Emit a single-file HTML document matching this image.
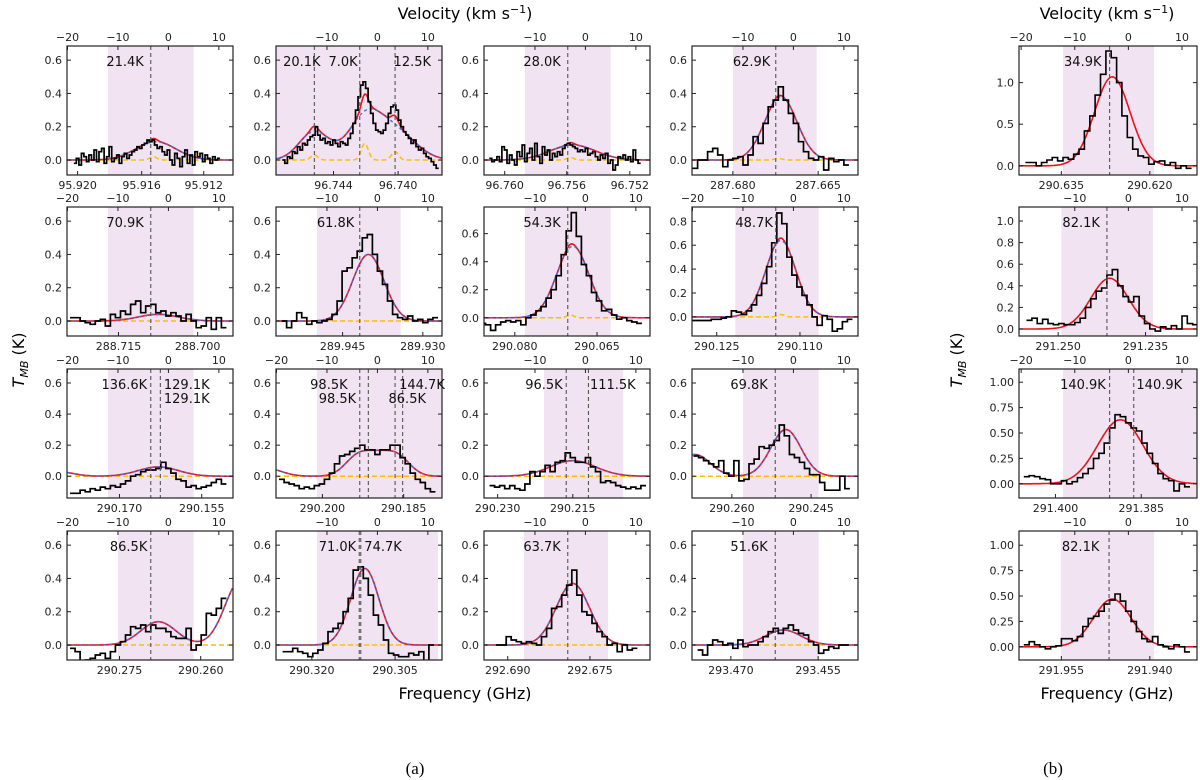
<!DOCTYPE html>
<html><head><meta charset="utf-8"><style>
html,body{margin:0;padding:0;background:#fff;}
svg{display:block;font-family:"DejaVu Sans","Liberation Sans",sans-serif;}
</style></head><body>
<svg id="fig" width="1200" height="780" viewBox="0 0 1200 780" xmlns="http://www.w3.org/2000/svg">
<text x="465" y="19" font-size="16" text-anchor="middle">Velocity (km s<tspan dy="-6" font-size="11">−1</tspan><tspan dy="6">)</tspan></text>
<text x="1107" y="19" font-size="16" text-anchor="middle">Velocity (km s<tspan dy="-6" font-size="11">−1</tspan><tspan dy="6">)</tspan></text>
<text x="465" y="699" font-size="16" text-anchor="middle">Frequency (GHz)</text>
<text x="1107" y="699" font-size="16" text-anchor="middle">Frequency (GHz)</text>
<text transform="translate(24,360) rotate(-90)" font-size="16" text-anchor="middle"><tspan font-style="italic">T</tspan><tspan font-style="italic" font-size="11" dy="4">MB</tspan><tspan dy="-4"> (K)</tspan></text>
<text transform="translate(962,360) rotate(-90)" font-size="16" text-anchor="middle"><tspan font-style="italic">T</tspan><tspan font-style="italic" font-size="11" dy="4">MB</tspan><tspan dy="-4"> (K)</tspan></text>
<text x="415" y="774" font-size="17" text-anchor="middle" font-family="Liberation Serif, serif">(a)</text>
<text x="1053" y="774" font-size="17" text-anchor="middle" font-family="Liberation Serif, serif">(b)</text>
</svg>
<script>
// ---- observed spectra (T_MB in K), channel start velocity v0 and width dv given in configs
const obs_r1c1=[-0.02,0.01,-0.03,0.04,0.02,-0.01,0.03,0.0,0.06,-0.01,0.05,0.07,-0.02,0.02,0.08,-0.01,0.01,0.03,-0.02,0.02,0.04,0.01,0.03,0.05,0.06,0.08,0.07,0.09,0.1,0.12,0.11,0.12,0.09,0.07,0.08,0.05,0.03,0.06,0.0,-0.03,0.04,0.01,-0.04,0.02,0.06,-0.02,0.03,-0.03,0.05,0.02,0.04,-0.01,0.03,0.01,-0.02,0.02,0.0,0.01];
const obs_r1c2=[0,-0.02,0.02,0.01,0.05,0.04,0.08,0.06,0.1,0.09,0.12,0.14,0.15,0.2,0.15,0.12,0.13,0.1,0.11,0.09,0.12,0.1,0.08,0.11,0.1,0.09,0.13,0.16,0.22,0.3,0.38,0.45,0.47,0.43,0.35,0.28,0.22,0.18,0.17,0.16,0.18,0.22,0.28,0.32,0.33,0.3,0.24,0.2,0.17,0.15,0.13,0.1,0.12,0.08,0.06,0.07,0.04,0.02,0.01,-0.01,-0.03,-0.05];
const obs_r1c3=[0.01,-0.01,0.0,0.02,-0.01,0.08,0.06,-0.02,0.03,0.0,-0.03,0.05,0.02,0.09,-0.01,0.04,0.07,0.0,0.1,0.02,-0.02,0.08,0.03,0.06,0.0,0.04,0.02,0.05,0.03,0.07,0.09,0.1,0.09,0.08,0.07,0.05,0.06,0.05,0.07,0.03,0.04,0.05,0.02,0.0,0.03,0.01,0.04,-0.02,0.0,-0.06,-0.03,0.02,0.01,0.03,0.0,0.02,-0.01,0.06,0.0,-0.02];
const obs_r1c4=[-0.05,0.0,0.0,0.05,0.07,0.03,-0.04,0.0,0.01,0.02,-0.03,0.03,0.14,0.1,0.22,0.32,0.36,0.44,0.36,0.28,0.22,0.11,0.05,0.01,0.0,0.02,-0.06,0.01,-0.01,0.0,-0.03];
const obs_r2c1=[0.02,0.02,0.0,-0.01,-0.02,0.0,0.01,-0.03,0.04,0.02,0.06,0.04,0.1,0.12,0.05,0.09,0.1,0.05,0.06,0.03,0.05,0.03,0.0,0.04,0.0,-0.04,-0.03,0.02,-0.05,0.02,-0.04];
const obs_r2c2=[0.0,-0.04,0.0,0.05,0.02,-0.02,0.0,-0.01,0.0,0.01,0.04,0.12,0.3,0.32,0.38,0.42,0.5,0.52,0.4,0.3,0.22,0.12,0.04,0.02,0.01,0.03,0.0,0.01,-0.01,0.01,0.02];
const obs_r2c3=[-0.04,-0.05,-0.09,-0.05,-0.03,-0.02,-0.03,-0.02,-0.05,0.0,0.02,0.05,0.08,0.14,0.2,0.3,0.45,0.62,0.75,0.58,0.38,0.3,0.18,0.12,0.05,0.06,0.02,-0.01,0.0,-0.02,-0.03,-0.04];
const obs_r2c4=[-0.03,-0.03,-0.03,-0.03,-0.02,-0.02,-0.01,0.0,0.05,0.04,0.02,0.05,0.1,0.18,0.28,0.42,0.62,0.87,0.78,0.5,0.35,0.25,0.18,0.1,0.0,-0.07,0.01,-0.02,-0.12,-0.1,-0.04,-0.02];
const obs_r3c1=[-0.11,-0.11,-0.09,-0.1,-0.08,-0.09,-0.07,-0.08,-0.06,-0.07,-0.05,-0.03,0.0,0.01,0.03,0.04,0.04,0.05,0.09,0.05,0.02,-0.02,-0.03,-0.07,-0.06,-0.08,-0.07,-0.06,-0.04,-0.02,-0.05];
const obs_r3c2=[-0.02,-0.04,-0.05,-0.06,-0.08,-0.07,-0.08,-0.06,-0.05,-0.02,0.02,0.08,0.13,0.14,0.16,0.18,0.2,0.17,0.17,0.14,0.17,0.17,0.2,0.2,0.12,0.08,0.02,-0.02,-0.04,-0.08,-0.1];
const obs_r3c3=[-0.06,-0.07,-0.06,-0.08,-0.06,-0.08,-0.09,-0.05,0.03,0.0,0.03,0.07,0.03,0.09,0.1,0.15,0.12,0.09,0.09,0.12,0.06,0.03,-0.04,-0.03,-0.04,-0.06,-0.07,-0.08,-0.07,-0.08,-0.06];
const obs_r3c4=[0.13,0.12,0.1,0.08,0.06,0.1,0.02,0.0,0.1,-0.03,-0.02,0.08,0.11,0.19,0.18,0.2,0.23,0.33,0.26,0.14,0.12,0.09,0.05,0.01,0.01,-0.04,-0.09,-0.09,-0.09,0.0,-0.08];
const obs_r4c1=[-0.02,-0.04,-0.1,-0.09,-0.08,-0.06,-0.05,-0.08,-0.04,0.0,0.02,0.06,0.11,0.1,0.12,0.08,0.12,0.1,0.1,0.08,0.05,0.04,0.04,0.1,-0.03,0.0,0.06,0.19,0.18,0.22,0.28];
const obs_r4c2=[-0.04,-0.04,-0.02,-0.04,-0.05,-0.07,-0.05,-0.03,0.01,0.08,0.1,0.13,0.2,0.28,0.45,0.47,0.4,0.3,0.18,0.12,0.03,-0.05,-0.06,-0.07,-0.07,-0.05,-0.06,-0.04,-0.1,0.0];
const obs_r4c3=[0.0,0.0,0.05,0.03,0.02,0.01,0.02,0.01,0.0,0.05,0.1,0.22,0.23,0.3,0.36,0.45,0.3,0.2,0.18,0.13,0.08,0.05,0.0,0.01,-0.04,0.0,-0.03,-0.02];
const obs_r4c4=[-0.03,-0.06,0.0,0.03,0.02,0.0,0.01,-0.02,0.03,-0.01,0.0,0.0,0.02,0.05,0.08,0.1,0.07,0.1,0.12,0.09,0.07,0.06,0.02,0.0,-0.05,-0.03,-0.01,-0.02,0.0,0.0];
const obs_b1=[0.04,0.04,0.0,0.04,0.07,0.1,0.06,0.1,0.08,0.14,0.2,0.42,0.6,0.85,1.1,1.38,1.3,1.0,0.6,0.34,0.2,0.12,0.1,0.02,0.05,0.06,0.01,0.04,-0.03,0.0,-0.03];
const obs_b2=[0.08,0.1,0.05,0.09,0.05,0.04,0.05,0.04,0.04,0.06,0.1,0.2,0.28,0.35,0.38,0.5,0.55,0.4,0.3,0.25,0.3,0.12,0.05,0.0,-0.02,0.02,0.0,0.03,0.0,0.12,0.05,0.04];
const obs_b3=[0.07,0.08,0.07,0.05,0.04,0.0,0.0,0.03,0.0,0.02,0.06,0.1,0.15,0.25,0.3,0.4,0.55,0.68,0.66,0.6,0.55,0.52,0.4,0.3,0.2,0.1,0.05,0.03,-0.07,0.0,-0.03];
const obs_b4=[0.02,0.05,0.02,0.0,-0.02,0.0,0.01,0.08,0.08,0.06,0.1,0.2,0.28,0.3,0.35,0.42,0.46,0.52,0.45,0.35,0.25,0.15,0.08,0.05,0.1,0.02,0.0,-0.02,0.02,0.0,-0.05];
// ---- Gaussian fit components [amplitude, centre velocity, sigma]
const fit_r1c1=[[0.11,-2.5,4]];
const fit_r1c2=[[0.17,-12.5,3],[0.24,-2.5,3.3],[0.17,3.5,4]];
const fit_r1c3=[[0.09,-2.5,4.5]];
const fit_r1c4=[[0.38,-2.5,3.2]];
const fit_r2c1=[[0.04,-2,4]];
const fit_r2c2=[[0.4,-1.8,3.1]];
const fit_r2c3=[[0.51,-2.5,3.2]];
const fit_r2c4=[[0.64,-2.5,3]];
const fit_r3c1=[[0.06,-2,4],[0.03,-22,3]];
const fit_r3c2=[[0.12,-4,2.5],[0.1,0,2.5],[0.12,4,2.5],[0.05,-22,3]];
const fit_r3c3=[[0.1,-2.5,4.5]];
const fit_r3c4=[[0.3,-1.5,3],[0.14,-19.5,3]];
const fit_r4c1=[[0.14,-2,3.5],[0.4,14.5,3.2]];
const fit_r4c2=[[0.46,-2.5,2.8]];
const fit_r4c3=[[0.37,-2.5,3.3]];
const fit_r4c4=[[0.09,-2,3.5]];
const fit_b1=[[1.07,-3,3.3]];
const fit_b2=[[0.47,-3.5,3.5]];
const fit_b3=[[0.63,-1.5,4.2]];
const fit_b4=[[0.47,-3,3.5]];
// ---- optically-thin (yellow) components
const yel_r1c1=[[0.02,-3,0.7]];
const yel_r1c2=[[0.03,-12.5,0.7],[0.1,-2.5,0.7],[0.05,3.5,0.7]];
const yel_r1c3=[[0.015,-3,0.7]];
const yel_r1c4=[[0.01,-3,0.7]];
const yel_r2c3=[[0.02,-3,0.7]];
const yel_r2c4=[[0.02,-2.5,0.7]];
// ---- labels (excitation temperatures)
const tex_r1c2=["20.1K","7.0K","12.5K"];
const tex_r3c1=["136.6K","129.1K","129.1K"];
const tex_r3c2=["98.5K","98.5K","144.7K","86.5K"];

const Y06=[0,0.2,0.4,0.6];
const cfg=[
 {id:"r1c1",r:0,c:0,obs:obs_r1c1,v0:-18.5,dv:0.5,fit:fit_r1c1,yel:yel_r1c1,shade:[-12,5],dash:[-3.5],lab:[["21.4K",-12.3,"start",0]],yd:[-0.09,0.685],yt:Y06,top:[-20,-10,0,10],ft:[["95.920",-18],["95.916",-5.3],["95.912",7]]},
 {id:"r1c2",r:0,c:1,obs:obs_r1c2,v0:-18.6,dv:0.5,fit:fit_r1c2,yel:yel_r1c2,shade:[-20,13],dash:[-12.5,-3.5,3.5],lab:[[tex_r1c2[0],-18.7,"start",0],[tex_r1c2[1],-9.7,"start",0],[tex_r1c2[2],3.2,"start",0]],yd:[-0.09,0.685],yt:Y06,top:[-10,0,10],ft:[["96.744",-8.7],["96.740",4.1]]},
 {id:"r1c3",r:0,c:2,obs:obs_r1c3,v0:-18.8,dv:0.5,fit:fit_r1c3,yel:yel_r1c3,shade:[-12,5],dash:[-3.5],lab:[["28.0K",-12.3,"start",0]],yd:[-0.09,0.685],yt:Y06,top:[-10,0,10],ft:[["96.760",-16],["96.756",-3.7],["96.752",8.8]]},
 {id:"r1c4",r:0,c:3,obs:obs_r1c4,v0:-19.5,dv:1,fit:fit_r1c4,yel:yel_r1c4,shade:[-12,4.6],dash:[-3.5],lab:[["62.9K",-12,"start",0]],yd:[-0.09,0.685],yt:Y06,top:[-10,0,10],ft:[["287.680",-12],["287.665",4.9]]},
 {id:"r2c1",r:1,c:0,obs:obs_r2c1,v0:-19,dv:1,fit:fit_r2c1,yel:[],shade:[-12,5],dash:[-3.5],lab:[["70.9K",-12.3,"start",0]],yd:[-0.09,0.685],yt:Y06,top:[-20,-10,0,10],ft:[["288.715",-9.9],["288.700",5.8]]},
 {id:"r2c2",r:1,c:1,obs:obs_r2c2,v0:-18.5,dv:1,fit:fit_r2c2,yel:[],shade:[-12,4.6],dash:[-3.5],lab:[["61.8K",-12,"start",0]],yd:[-0.09,0.685],yt:Y06,top:[-10,0,10],ft:[["289.945",-6.9],["289.930",9]]},
 {id:"r2c3",r:1,c:2,obs:obs_r2c3,v0:-20.3,dv:1,fit:fit_r2c3,yel:yel_r2c3,shade:[-12,5],dash:[-3.5],lab:[["54.3K",-12.3,"start",0]],yd:[-0.13,0.79],yt:Y06,top:[-10,0,10],ft:[["290.080",-14],["290.065",2.3]]},
 {id:"r2c4",r:1,c:3,obs:obs_r2c4,v0:-19.8,dv:1,fit:fit_r2c4,yel:yel_r2c4,shade:[-11.5,5],dash:[-3.5],lab:[["48.7K",-11.5,"start",0]],yd:[-0.16,0.92],yt:[0,0.2,0.4,0.6,0.8],top:[-20,-10,0,10],ft:[["290.125",-15.2],["290.110",1.3]]},
 {id:"r3c1",r:2,c:0,obs:obs_r3c1,v0:-19,dv:1,fit:fit_r3c1,yel:[],shade:[-12,5],dash:[-3.5,-1.6],lab:[[tex_r3c1[0],-4.2,"end",0],[tex_r3c1[1],-0.9,"start",0],[tex_r3c1[2],-0.9,"start",1]],yd:[-0.14,0.69],yt:Y06,top:[-20,-10,0,10],ft:[["290.170",-9.7],["290.155",6.6]]},
 {id:"r3c2",r:2,c:1,obs:obs_r3c2,v0:-19,dv:1,fit:fit_r3c2,yel:[],shade:[-12,13],dash:[-3.5,-1.8,3.5,5],lab:[[tex_r3c2[0],-5.9,"end",0],[tex_r3c2[1],-4.2,"end",1],[tex_r3c2[2],4.3,"start",0],[tex_r3c2[3],2.2,"start",1]],yd:[-0.14,0.69],yt:Y06,top:[-20,-10,0,10],ft:[["290.200",-10.9],["290.185",5.2]]},
 {id:"r3c3",r:2,c:2,obs:obs_r3c3,v0:-18.5,dv:1,fit:fit_r3c3,yel:[],shade:[-8.2,7.5],dash:[-3.8,0.6],lab:[["96.5K",-4.5,"end",0],["111.5K",0.9,"start",0]],yd:[-0.14,0.69],yt:Y06,top:[-10,0,10],ft:[["290.230",-17.4],["290.215",-2.5]]},
 {id:"r3c4",r:2,c:3,obs:obs_r3c4,v0:-19.3,dv:1,fit:fit_r3c4,yel:[],shade:[-10,5],dash:[-3.6],lab:[["69.8K",-12.5,"start",0]],yd:[-0.14,0.69],yt:Y06,top:[-10,0,10],ft:[["290.260",-12.2],["290.245",3.5]]},
 {id:"r4c1",r:3,c:0,obs:obs_r4c1,v0:-19,dv:1,fit:fit_r4c1,yel:[],shade:[-10,5],dash:[-3.5],lab:[["86.5K",-11.6,"start",0]],yd:[-0.09,0.685],yt:Y06,top:[-20,-10,0,10],ft:[["290.275",-9.7],["290.260",6.4]]},
 {id:"r4c2",r:3,c:1,obs:obs_r4c2,v0:-18.3,dv:1,fit:fit_r4c2,yel:[],shade:[-12,12],dash:[-3.6,-3.3],lab:[["71.0K",-4.2,"end",0],["74.7K",-2.6,"start",0]],yd:[-0.09,0.685],yt:Y06,top:[-10,0,10],ft:[["290.320",-13],["290.305",3.5]]},
 {id:"r4c3",r:3,c:2,obs:obs_r4c3,v0:-17.2,dv:1,fit:fit_r4c3,yel:[],shade:[-12.2,4.5],dash:[-3.5],lab:[["63.7K",-12.3,"start",0]],yd:[-0.09,0.685],yt:Y06,top:[-10,0,10],ft:[["292.690",-15.4],["292.675",0.9]]},
 {id:"r4c4",r:3,c:3,obs:obs_r4c4,v0:-18.5,dv:1,fit:fit_r4c4,yel:[],shade:[-10,5],dash:[-3.6],lab:[["51.6K",-12.5,"start",0]],yd:[-0.09,0.685],yt:Y06,top:[-10,0,10],ft:[["293.470",-12.4],["293.455",4.9]]},
 {id:"b1",r:0,c:4,obs:obs_b1,v0:-18.7,dv:1,fit:fit_b1,yel:null,shade:[-12.2,4.8],dash:[-3.5],lab:[["34.9K",-12,"start",0]],yd:[-0.11,1.44],yt:[0,0.5,1.0],top:[-20,-10,0,10],ft:[["290.635",-12.5],["290.620",4]]},
 {id:"b2",r:1,c:4,obs:obs_b2,v0:-18.5,dv:1,fit:fit_b2,yel:null,shade:[-12.5,4.6],dash:[-4],lab:[["82.1K",-12.3,"start",0]],yd:[-0.065,1.13],yt:[0,0.2,0.4,0.6,0.8,1.0],top:[-10,0,10],ft:[["291.250",-13.1],["291.235",3.2]]},
 {id:"b3",r:2,c:4,obs:obs_b3,v0:-19,dv:1,fit:fit_b3,yel:null,shade:[-12.2,13],dash:[-3.5,1],lab:[["140.9K",-4.2,"end",0],["140.9K",1.5,"start",0]],yd:[-0.14,1.13],yt:[0,0.25,0.5,0.75,1.0],dec:2,top:[-20,-10,0,10],ft:[["291.400",-13.6],["291.385",2.4]]},
 {id:"b4",r:3,c:4,obs:obs_b4,v0:-19,dv:1,fit:fit_b4,yel:null,shade:[-12.6,4.8],dash:[-3.6],lab:[["82.1K",-12.4,"start",0]],yd:[-0.13,1.14],yt:[0,0.25,0.5,0.75,1.0],dec:2,top:[-10,0,10],ft:[["291.955",-12.5],["291.940",4]]}
];
const colX=[67,276,484,692,1019], rowY=[46,207,369,531];
const NS="http://www.w3.org/2000/svg", svg=document.getElementById("fig");
function mk(tag,at,parent){const e=document.createElementNS(NS,tag);for(const k in at)e.setAttribute(k,at[k]);(parent||svg).appendChild(e);return e;}
function gauss(comps,v){let s=0;for(const g of comps)s+=g[0]*Math.exp(-(v-g[1])*(v-g[1])/(2*g[2]*g[2]));return s;}
cfg.forEach((p)=>{
  const isB=p.c===4, X0=colX[p.c], Y0=rowY[p.r], W=isB?178:166, H=129;
  const vd=isB?[-20.4,12.8]:[-20.1,12.8];
  const xs=v=>X0+(v-vd[0])/(vd[1]-vd[0])*W;
  const ys=t=>Y0+H-(t-p.yd[0])/(p.yd[1]-p.yd[0])*H;
  const g=mk("g",{});
  
  
  const clip=mk("clipPath",{id:"cl"+p.id},g);
  mk("rect",{x:X0,y:Y0,width:W,height:H},clip);
  const inner=mk("g",{"clip-path":"url(#cl"+p.id+")"},g);
  const sh=mk("rect",{x:xs(p.shade[0]),y:Y0,width:xs(p.shade[1])-xs(p.shade[0]),height:H,fill:"#f1e3f1"},inner);
  
  
  const samp=[];for(let v=vd[0];v<=vd[1]+0.01;v+=0.2)samp.push(v);
  const line=(comps)=>samp.map((v,i)=>(i?"L":"M")+xs(v).toFixed(1)+","+ys(gauss(comps,v)).toFixed(1)).join("");
  if(p.yel!==null){
    const yl=mk("path",{d:line(p.yel),fill:"none",stroke:"#ffbf00",'stroke-width':1.5,'stroke-dasharray':"5,3"},inner);
    
    
  }
  const red=mk("path",{d:line(p.fit.concat(p.yel||[])),fill:"none",stroke:"#e8141c",'stroke-width':1.6},inner);
  
  
  if(p.yel!==null){
    const bl=mk("path",{d:line(p.fit),fill:"none",stroke:"#4d6bd9",'stroke-width':1.4,'stroke-dasharray':"3,3"},inner);
    
    
  }
  let d="";
  p.obs.forEach((t,i)=>{const v=p.v0+i*p.dv;const a=xs(v-p.dv/2),b=xs(v+p.dv/2),y=ys(t);d+=(i?"L"+a.toFixed(1)+","+y.toFixed(1):"M"+a.toFixed(1)+","+y.toFixed(1))+"L"+b.toFixed(1)+","+y.toFixed(1);});
  const st=mk("path",{d:d,fill:"none",stroke:"#000",'stroke-width':isB?1.6:1.7},inner);
  
  
  p.dash.forEach(v=>{const l=mk("line",{x1:xs(v),x2:xs(v),y1:Y0,y2:Y0+H,stroke:"#555",'stroke-width':1.1,'stroke-dasharray':"4,3"},inner);
    
    });
  const fr=mk("rect",{x:X0,y:Y0,width:W,height:H,fill:"none",stroke:"#222",'stroke-width':1.2},g);
  
  
  p.yt.forEach(t=>{const y=ys(t);
    mk("line",{x1:X0,x2:X0+4,y1:y,y2:y,stroke:"#222"},g);mk("line",{x1:X0+W-4,x2:X0+W,y1:y,y2:y,stroke:"#222"},g);
    const tx=mk("text",{x:X0-5,y:y+4,'font-size':11,'text-anchor':"end",fill:"#222"},g);tx.textContent=t.toFixed(p.dec||1);
    
    });
  p.top.forEach(v=>{const x=xs(v);mk("line",{x1:x,x2:x,y1:Y0,y2:Y0+4,stroke:"#222"},g);
    const tx=mk("text",{x:x,y:Y0-5,'font-size':11,'text-anchor':"middle",fill:"#222"},g);tx.textContent=(v<0?"−":"")+Math.abs(v);
    
    });
  p.ft.forEach(f=>{const x=xs(f[1]);mk("line",{x1:x,x2:x,y1:Y0+H-4,y2:Y0+H,stroke:"#222"},g);
    const tx=mk("text",{x:x,y:Y0+H+14,'font-size':11,'text-anchor':"middle",fill:"#222"},g);tx.textContent=f[0];
    
    });
  p.lab.forEach(L=>{const tx=mk("text",{x:xs(L[1]),y:Y0+20+L[3]*14,'font-size':13,'text-anchor':L[2],fill:"#111"},g);tx.textContent=L[0];
    
    });
});
</script>
</body></html>
